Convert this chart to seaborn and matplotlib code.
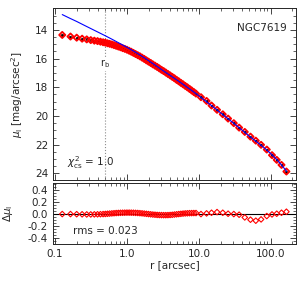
import numpy as np
import pandas as pd
import matplotlib
matplotlib.use("Agg")
import matplotlib.pyplot as plt
import matplotlib.ticker as mticker
import seaborn as sns

# === Data ===
# inner points (linear sampling)
r_in = [0.126, 0.164, 0.200, 0.238, 0.276, 0.314, 0.352, 0.390, 0.428, 0.466]
mu_in = [14.35, 14.46, 14.54, 14.61, 14.66, 14.71, 14.75, 14.78, 14.82, 14.86]
res_in = [0.0, 0.0, -0.002, -0.004, -0.006, -0.006, -0.005, -0.004, -0.002, 0.0]

# dense middle part
r_mid = [0.501, 0.537, 0.575, 0.617, 0.661, 0.708, 0.759, 0.813, 0.871, 0.933,
         1.000, 1.072, 1.148, 1.230, 1.318, 1.413, 1.514, 1.622, 1.738, 1.862,
         1.995, 2.138, 2.291, 2.455, 2.630, 2.818, 3.020, 3.236, 3.467, 3.715,
         3.981, 4.266, 4.571, 4.898, 5.248, 5.623, 6.026, 6.457, 6.918, 7.413,
         7.943, 8.511, 9.120]
mu_mid = [14.89, 14.93, 14.97, 15.01, 15.06, 15.11, 15.16, 15.21, 15.27, 15.32,
          15.38, 15.45, 15.52, 15.60, 15.68, 15.76, 15.84, 15.93, 16.02, 16.12,
          16.21, 16.30, 16.40, 16.49, 16.58, 16.68, 16.78, 16.87, 16.97, 17.07,
          17.17, 17.27, 17.37, 17.48, 17.58, 17.69, 17.79, 17.90, 18.00, 18.11,
          18.22, 18.33, 18.44]
res_mid = [0.002, 0.005, 0.008, 0.011, 0.014, 0.017, 0.019, 0.021, 0.022, 0.023,
           0.024, 0.024, 0.023, 0.022, 0.020, 0.018, 0.015, 0.012, 0.008, 0.004,
           0.0, -0.004, -0.008, -0.011, -0.014, -0.016, -0.017, -0.018, -0.018, -0.017,
           -0.015, -0.012, -0.008, -0.004, 0.0, 0.004, 0.008, 0.011, 0.013, 0.015,
           0.016, 0.017, 0.017]

# outer points (log sampling)
r_out = [10.7, 12.8, 15.0, 17.9, 21.5, 25.5, 30.6, 36.3, 43.5, 52.2,
         61.9, 73.3, 88.0, 104.0, 121.0, 141.0, 165.0]
mu_out = [18.69, 18.95, 19.27, 19.57, 19.88, 20.18, 20.50, 20.81, 21.11, 21.44,
          21.72, 22.01, 22.34, 22.73, 23.06, 23.41, 23.87]
res_out = [0.0, 0.011, 0.022, 0.033, 0.022, 0.006, 0.0, -0.011, -0.056, -0.094,
           -0.111, -0.089, -0.033, -0.006, 0.006, 0.022, 0.039]

# core-Sersic model line
r_model = [0.126, 0.158, 0.200, 0.251, 0.316, 0.398, 0.501, 0.631, 0.794, 1.0,
           1.259, 1.585, 1.995, 2.512, 3.162, 3.981, 5.012, 6.310, 7.943, 10.0,
           12.59, 15.85, 19.95, 25.12, 31.62, 39.81, 50.12, 63.10, 79.43, 100.0,
           125.9, 166.0]
mu_model = [12.93, 13.17, 13.41, 13.66, 13.91, 14.16, 14.41, 14.67, 14.94, 15.21,
            15.50, 15.81, 16.14, 16.48, 16.83, 17.17, 17.51, 17.86, 18.22, 18.59,
            18.98, 19.37, 19.77, 20.17, 20.57, 20.98, 21.40, 21.78, 22.18, 22.62,
            23.12, 23.85]

r_break = 0.49
chi2 = 1.0
rms = 0.023
galaxy = "NGC7619"

df = pd.DataFrame({"r": r_in + r_mid + r_out,
                   "mu": mu_in + mu_mid + mu_out,
                   "res": res_in + res_mid + res_out})
model = pd.DataFrame({"r": r_model, "mu": mu_model})

# === Style ===
sns.set_style("ticks")
plt.rcParams["font.family"] = ["DejaVu Sans"]
plt.rcParams["font.size"] = 7
plt.rcParams["xtick.direction"] = "in"
plt.rcParams["ytick.direction"] = "in"
plt.rcParams["xtick.top"] = True
plt.rcParams["ytick.right"] = True

fig = plt.figure(figsize=(3.0, 2.85), dpi=100)
ax1 = fig.add_axes([0.177, 0.368, 0.810, 0.604])
ax2 = fig.add_axes([0.177, 0.144, 0.810, 0.214], sharex=ax1)

# === Top panel: profile ===
ax1.axvline(r_break, color="0.55", ls=":", lw=0.8, zorder=1)
sns.scatterplot(data=df, x="r", y="mu", ax=ax1, marker="o", s=4,
                color="black", edgecolor="black", linewidth=0.3, zorder=2)
sns.scatterplot(data=df, x="r", y="mu", ax=ax1, marker="D", s=10,
                facecolors="none", edgecolor="red", linewidth=1.3, zorder=3)
sns.lineplot(data=model, x="r", y="mu", ax=ax1, color="blue", lw=0.8,
             sort=False, zorder=4)

ax1.set_xscale("log")
ax1.set_xlim(0.094, 225)
ax1.set_ylim(24.47, 12.47)
ax1.yaxis.set_major_locator(mticker.MultipleLocator(2))
ax1.yaxis.set_minor_locator(mticker.MultipleLocator(0.5))
ax1.set_xlabel("")
ax1.set_ylabel(r"$\mu_{\rm I}$ [mag/arcsec$^2$]", fontsize=7.5)
ax1.yaxis.set_label_coords(-0.115, 0.5)
ax1.tick_params(axis="x", labelbottom=False)
ax1.text(0.963, 0.884, galaxy, transform=ax1.transAxes, ha="right", va="center",
         fontsize=7.5)
ax1.text(r_break, 16.35, r"r$_{\rm b}$", ha="center", va="center", fontsize=7,
         bbox=dict(facecolor="white", edgecolor="none", pad=0.5))
ax1.text(0.058, 0.10, r"$\chi^2_{\rm cs}$ = %.1f" % chi2, transform=ax1.transAxes,
         ha="left", va="center", fontsize=7.5)

# === Bottom panel: residuals ===
ax2.axhline(0, color="black", lw=0.8, zorder=1)
sns.scatterplot(data=df, x="r", y="res", ax=ax2, marker="D", s=8,
                facecolors="none", edgecolor="red", linewidth=0.8, zorder=2)
ax2.set_ylim(-0.5, 0.52)
ax2.yaxis.set_major_locator(mticker.MultipleLocator(0.2))
ax2.yaxis.set_minor_locator(mticker.MultipleLocator(0.05))
ax2.yaxis.set_major_formatter(mticker.FormatStrFormatter("%.1f"))
ax2.set_ylabel(r"$\Delta\mu_{\rm I}$", fontsize=7.5)
ax2.yaxis.set_label_coords(-0.155, 0.5)
ax2.set_xlabel("r [arcsec]", fontsize=7.5, labelpad=1)
ax2.set_xticks([0.1, 1, 10, 100])
ax2.set_xticklabels(["0.1", "1.0", "10.0", "100.0"])
ax2.text(0.08, 0.22, "rms = %.3f" % rms, transform=ax2.transAxes,
         ha="left", va="center", fontsize=7.5)

for ax in (ax1, ax2):
    ax.tick_params(which="major", length=4, width=0.6, labelsize=7.5)
    ax.tick_params(which="minor", length=2, width=0.5)
    for sp in ax.spines.values():
        sp.set_linewidth(0.7)

fig.savefig("out.png", dpi=100)
